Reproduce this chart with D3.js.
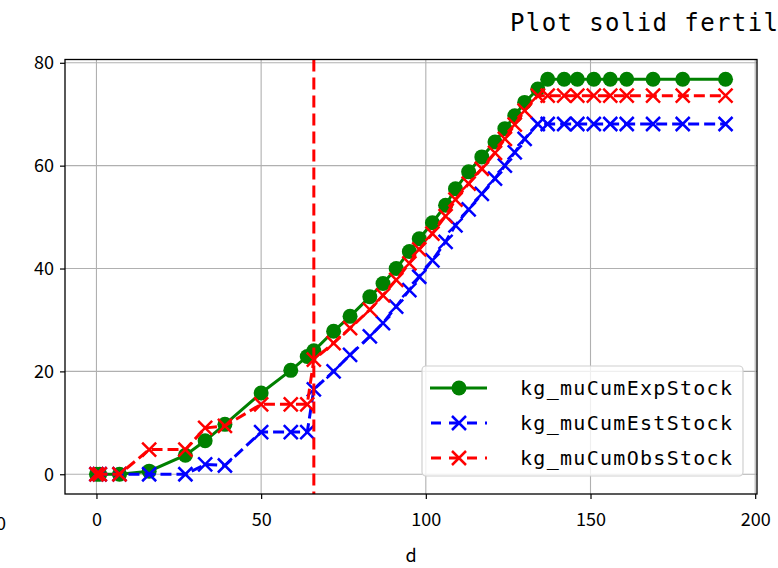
<!DOCTYPE html>
<html>
<head>
<meta charset="utf-8">
<script src="https://cdn.jsdelivr.net/npm/d3@7"></script>
<style>
  body { margin: 0; background: #fff; }
  svg { display: block; }
  text { font-family: "Noto Sans CJK SC", "DejaVu Sans", sans-serif; }
</style>
</head>
<body>
<svg width="778" height="568"></svg>
<script>
const width = 778;
const height = 568;

// days
const days = [0, 1, 7, 16, 27, 33, 39, 50, 59, 64, 66, 72, 77, 83, 87, 91, 95, 98, 102, 106,
  109, 113, 117, 121, 124, 127, 130, 134, 137, 142, 146, 151, 156, 161, 169, 178, 191];

const expStock = [0, 0, 0, 0.6, 3.7, 6.5, 9.7, 15.8, 20.2, 22.9, 24.0, 27.8, 30.7, 34.5, 37.1, 40.0,
  43.3, 45.8, 48.9, 52.3, 55.5, 58.8, 61.7, 64.6, 67.2, 69.7, 72.3, 74.9, 76.8, 76.8,
  76.8, 76.8, 76.8, 76.8, 76.8, 76.8, 76.8];

const estStock = [0, 0, 0, 0, 0, 1.9, 1.7, 8.2, 8.2, 8.2, 16.5, 20.0, 23.2, 26.8, 29.4, 32.6,
  35.8, 38.4, 41.6, 45.2, 48.4, 51.5, 54.5, 57.5, 60.0, 62.6, 65.2, 68.1, 68.1, 68.1,
  68.1, 68.1, 68.1, 68.1, 68.1, 68.1, 68.1];

const obsStock = [0, 0, 0, 4.8, 4.8, 9.0, 9.4, 13.6, 13.6, 13.6, 22.3, 25.5, 28.4, 32.0, 34.8, 37.8,
  41.0, 43.7, 46.8, 50.2, 53.4, 56.5, 59.4, 62.5, 65.2, 68.0, 70.7, 73.6, 73.6, 73.6,
  73.6, 73.6, 73.6, 73.6, 73.6, 73.6, 73.6];

const cutDay = 66;
const xTicks = [0, 50, 100, 150, 200];
const yTicks = [0, 20, 40, 60, 80];

const series = [
  {name: "kg_muCumExpStock", values: expStock, color: "green", dash: null, marker: "circle"},
  {name: "kg_muCumEstStock", values: estStock, color: "blue", dash: "11,5", marker: "x"},
  {name: "kg_muCumObsStock", values: obsStock, color: "red", dash: "11,5", marker: "x"}
];

const svg = d3.select("svg").attr("viewBox", [0, 0, width, height]);

const plot = {left: 65, right: 757, top: 59.5, bottom: 494};

const x = d3.scaleLinear().domain([-9.55, 200.55]).range([plot.left, plot.right]);
const y = d3.scaleLinear().domain([-3.84, 80.64]).range([plot.bottom, plot.top]);

// title (cut off on the right, like the original figure)
svg.append("text")
    .attr("x", 510).attr("y", 31)
    .style("font-family", "'DejaVu Sans Mono', monospace")
    .attr("font-size", 24)
    .attr("textLength", 268).attr("lengthAdjust", "spacing")
    .text("Plot solid fertil");

// leftover tick label from the neighbouring subplot
svg.append("text")
    .attr("x", -9).attr("y", 530)
    .attr("text-anchor", "middle")
    .attr("font-size", 18)
    .text("200");

// grid
const grid = svg.append("g").attr("stroke", "#b0b0b0").attr("stroke-width", 1.1);
grid.selectAll(".gx").data(xTicks).join("line")
    .attr("x1", d => x(d)).attr("x2", d => x(d))
    .attr("y1", plot.top).attr("y2", plot.bottom);
grid.selectAll(".gy").data(yTicks).join("line")
    .attr("x1", plot.left).attr("x2", plot.right)
    .attr("y1", d => y(d)).attr("y2", d => y(d));

// axes
const xAxis = svg.append("g")
    .attr("transform", `translate(0,${plot.bottom})`)
    .call(d3.axisBottom(x).tickValues(xTicks).tickSize(5).tickPadding(14).tickFormat(d3.format("d")));
const yAxis = svg.append("g")
    .attr("transform", `translate(${plot.left},0)`)
    .call(d3.axisLeft(y).tickValues(yTicks).tickSize(5).tickPadding(6).tickFormat(d3.format("d")));
[xAxis, yAxis].forEach(a => {
  a.select(".domain").remove();
  a.selectAll(".tick line").attr("stroke", "#000").attr("stroke-width", 1.2);
  a.selectAll(".tick text").attr("font-size", 18).attr("fill", "#000");
});

svg.append("text")
    .attr("x", (plot.left + plot.right) / 2).attr("y", 562)
    .attr("text-anchor", "middle").attr("font-size", 18)
    .text("d");

// data
svg.append("clipPath").attr("id", "clip")
  .append("rect").attr("x", plot.left).attr("y", plot.top)
  .attr("width", plot.right - plot.left).attr("height", plot.bottom - plot.top);

const dataG = svg.append("g").attr("clip-path", "url(#clip)");
const line = d3.line().x(d => x(d[0])).y(d => y(d[1]));

function drawMarker(g, kind, color, cx, cy) {
  if (kind === "circle") {
    g.append("circle").attr("cx", cx).attr("cy", cy).attr("r", 7.5).attr("fill", color);
  } else {
    const s = 7;
    g.append("path")
        .attr("d", `M${cx - s},${cy - s}L${cx + s},${cy + s}M${cx - s},${cy + s}L${cx + s},${cy - s}`)
        .attr("stroke", color).attr("stroke-width", 2.5).attr("fill", "none");
  }
}

series.forEach(s => {
  const pts = days.map((d, i) => [d, s.values[i]]);
  const g = dataG.append("g");
  g.append("path")
      .datum(pts)
      .attr("d", line)
      .attr("fill", "none")
      .attr("stroke", s.color)
      .attr("stroke-width", 3)
      .attr("stroke-dasharray", s.dash);
  pts.forEach(p => drawMarker(g, s.marker, s.color, x(p[0]), y(p[1])));
});

// vertical marker line
dataG.append("line")
    .attr("x1", x(cutDay)).attr("x2", x(cutDay))
    .attr("y1", plot.top).attr("y2", plot.bottom)
    .attr("stroke", "red").attr("stroke-width", 3)
    .attr("stroke-dasharray", "12,6");

// frame
svg.append("rect")
    .attr("x", plot.left).attr("y", plot.top)
    .attr("width", plot.right - plot.left).attr("height", plot.bottom - plot.top)
    .attr("fill", "none").attr("stroke", "#000").attr("stroke-width", 1.3);

// legend
const legend = svg.append("g");
legend.append("rect")
    .attr("x", 422).attr("y", 366).attr("width", 321).attr("height", 110)
    .attr("rx", 4)
    .attr("fill", "white").attr("fill-opacity", 0.8)
    .attr("stroke", "#d0d0d0").attr("stroke-width", 1.2);

series.forEach((s, i) => {
  const cy = 388 + i * 35;
  const row = legend.append("g");
  row.append("line")
      .attr("x1", 430).attr("x2", 487).attr("y1", cy).attr("y2", cy)
      .attr("stroke", s.color).attr("stroke-width", 3)
      .attr("stroke-dasharray", s.dash ? "10,8" : null)
      .attr("stroke-dashoffset", s.dash ? -1 : null);
  drawMarker(row, s.marker, s.color, 459, cy);
  row.append("text")
      .attr("x", 520).attr("y", cy + 7)
      .style("font-family", "'DejaVu Sans Mono', monospace")
      .attr("font-size", 20)
      .attr("textLength", 212).attr("lengthAdjust", "spacing")
      .text(s.name);
});
</script>
</body>
</html>
